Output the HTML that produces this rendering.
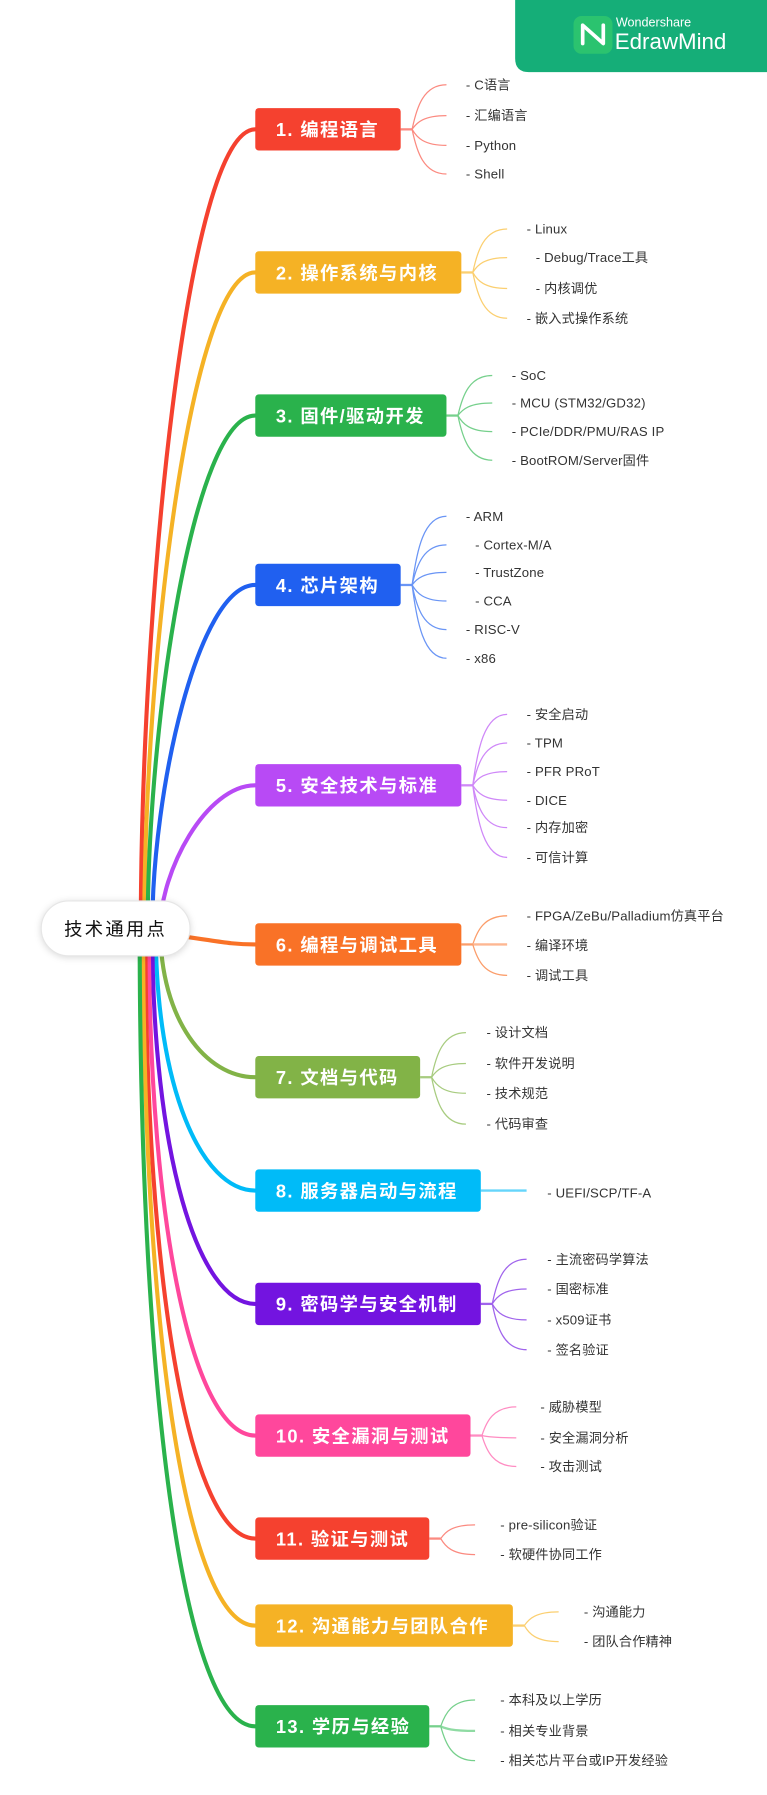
<!DOCTYPE html>
<html><head><meta charset="utf-8"><style>
html,body{margin:0;padding:0;background:#fff;}
svg{display:block;}
.n{font-family:"Liberation Sans","Noto Sans CJK SC",sans-serif;font-weight:bold;font-size:16px;fill:#fff;letter-spacing:1.2px;}
.l{font-family:"Liberation Sans","Noto Sans CJK SC",sans-serif;font-size:11.5px;fill:#333;letter-spacing:0.15px;}
.b{fill:none;stroke-width:3.6;stroke-linecap:round;}
.s{fill:none;stroke-width:1.1;}
</style></head><body>
<svg width="767" height="1795" viewBox="0 0 670 1568" preserveAspectRatio="none" xmlns="http://www.w3.org/2000/svg">
<path d="M450 0 H670 V63 H462 Q450 63 450 51 Z" fill="#15ae78"/>
<rect x="501" y="14" width="34" height="33" rx="7" fill="#2bc36f"/>
<path d="M509 38 V22 L527 38 V22" fill="none" stroke="#fff" stroke-width="3.2" stroke-linejoin="round" stroke-linecap="round"/>
<text x="538" y="23" font-family="Liberation Sans,sans-serif" font-size="11" fill="#fff">Wondershare</text>
<text x="537" y="43" font-family="Liberation Sans,sans-serif" font-size="19.5" fill="#fff">EdrawMind</text>

<path class="b" stroke="#f5412f" d="M123 811 C123 532 163 113 223 113"/>
<path class="b" stroke="#f5b225" d="M126 811 C126 581 166 238 223 238"/>
<path class="b" stroke="#2ab24c" d="M129 811 C129 632 169 363 223 363"/>
<path class="b" stroke="#2060f0" d="M133 811 C133 691 173 511 223 511"/>
<path class="b" stroke="#b84af5" stroke-width="4.5" d="M140 811 C140 761 180 686 223 686"/>
<path class="b" stroke="#f97227" stroke-width="5" d="M160 818 C190 822 200 825 223 825"/>
<path class="b" stroke="#82b347" stroke-width="4.5" d="M140 811 C140 891 180 941 223 941"/>
<path class="b" stroke="#00bbf8" d="M136 811 C136 950 176 1040 223 1040"/>
<path class="b" stroke="#7314e0" d="M133 811 C133 1008 173 1139 223 1139"/>
<path class="b" stroke="#ff479c" d="M130 811 C130 1077 170 1254 223 1254"/>
<path class="b" stroke="#f5412f" d="M127 811 C127 1131 167 1344 223 1344"/>
<path class="b" stroke="#f5b225" d="M125 811 C125 1176 165 1420 223 1420"/>
<path class="b" stroke="#2ab24c" stroke-width="4.2" d="M122 811 C122 1229 162 1508 223 1508"/>

<rect x="36" y="787" width="130" height="48" rx="24" fill="#fff" stroke="#e6e6e6" stroke-width="1" style="filter:drop-shadow(0 1px 3px rgba(0,0,0,.15))"/>
<text x="101" y="817" text-anchor="middle" font-family="Liberation Sans,Noto Sans CJK SC,sans-serif" font-size="16" fill="#111" letter-spacing="2">技术通用点</text>

<g class="s" stroke="#fb8a80">
<path stroke-width="2" d="M350 113 H360"/>
<path d="M360 113 c4 -19.5 10 -39 30 -39"/><path d="M360 113 c4 -6 10 -12 30 -12"/><path d="M360 113 c4 7 10 14 30 14"/><path d="M360 113 c4 19.5 10 39 30 39"/>
</g>
<g class="s" stroke="#fbcf70">
<path stroke-width="2" d="M403 238 H413"/>
<path d="M413 238 c4 -19 10 -38 30 -38"/><path d="M413 238 c4 -6.5 10 -13 30 -13"/><path d="M413 238 c4 7 10 14 30 14"/><path d="M413 238 c4 20 10 40 30 40"/>
</g>
<g class="s" stroke="#76d08c">
<path stroke-width="2" d="M390 363 H400"/>
<path d="M400 363 c4 -17.5 10 -35 30 -35"/><path d="M400 363 c4 -5.5 10 -11 30 -11"/><path d="M400 363 c4 7 10 14 30 14"/><path d="M400 363 c4 19.5 10 39 30 39"/>
</g>
<g class="s" stroke="#6a95f5">
<path stroke-width="2" d="M350 511 H360"/>
<path d="M360 511 c4 -30 10 -60 30 -60"/><path d="M360 511 c4 -17.5 10 -35 30 -35"/><path d="M360 511 c4 -5.5 10 -11 30 -11"/><path d="M360 511 c4 7 10 14 30 14"/><path d="M360 511 c4 19.5 10 39 30 39"/><path d="M360 511 c4 32 10 64 30 64"/>
</g>
<g class="s" stroke="#cf88f8">
<path stroke-width="2" d="M403 686 H413"/>
<path d="M413 686 c4 -31 10 -62 30 -62"/><path d="M413 686 c4 -18.5 10 -37 30 -37"/><path d="M413 686 c4 -6 10 -12 30 -12"/><path d="M413 686 c4 6.5 10 13 30 13"/><path d="M413 686 c4 18.5 10 37 30 37"/><path d="M413 686 c4 31.5 10 63 30 63"/>
</g>
<g class="s" stroke="#fb9d6a">
<path stroke-width="2" d="M403 825 H413"/>
<path d="M413 825 c4 -12.5 10 -25 30 -25"/><path stroke-width="2" stroke="#fdb792" d="M413 825 H443"/><path d="M413 825 c4 13.5 10 27 30 27"/>
</g>
<g class="s" stroke="#a8cc80">
<path stroke-width="2" d="M367 941 H377"/>
<path d="M377 941 c4 -19.5 10 -39 30 -39"/><path d="M377 941 c4 -6 10 -12 30 -12"/><path d="M377 941 c4 7 10 14 30 14"/><path d="M377 941 c4 20.5 10 41 30 41"/>
</g>
<path d="M420 1040 H460" stroke="#66d5fb" stroke-width="2" fill="none"/>
<g class="s" stroke="#a064ec">
<path stroke-width="2" d="M420 1139 H430"/>
<path d="M430 1139 c4 -19.5 10 -39 30 -39"/><path d="M430 1139 c4 -6.5 10 -13 30 -13"/><path d="M430 1139 c4 7 10 14 30 14"/><path d="M430 1139 c4 20 10 40 30 40"/>
</g>
<g class="s" stroke="#ff8cc2">
<path stroke-width="2" d="M411 1254 H421"/>
<path d="M421 1254 c4 -12.5 10 -25 30 -25"/><path d="M421 1254 c4 1 10 2 30 2"/><path d="M421 1254 c4 13.5 10 27 30 27"/>
</g>
<g class="s" stroke="#fb8a80">
<path stroke-width="2" d="M375 1344 H385"/>
<path d="M385 1344 c4 -6 10 -12 30 -12"/><path d="M385 1344 c4 7 10 14 30 14"/>
</g>
<g class="s" stroke="#fbcf70">
<path stroke-width="2" d="M448 1420 H458"/>
<path d="M458 1420 c4 -6 10 -12 30 -12"/><path d="M458 1420 c4 7 10 14 30 14"/>
</g>
<g class="s" stroke="#76d08c">
<path stroke-width="2" d="M375 1508 H385"/>
<path d="M385 1508 c4 -11.5 10 -23 30 -23"/><path stroke-width="2" stroke="#8fdba3" d="M385 1508 c4 2 10 4 30 4"/><path d="M385 1508 c4 15 10 30 30 30"/>
</g>

<rect x="223" y="94.5" width="127" height="37" rx="3" fill="#f5412f"/><text class="n" x="241" y="119">1. 编程语言</text>
<rect x="223" y="219.5" width="180" height="37" rx="3" fill="#f5b225"/><text class="n" x="241" y="244">2. 操作系统与内核</text>
<rect x="223" y="344.5" width="167" height="37" rx="3" fill="#2ab24c"/><text class="n" x="241" y="369">3. 固件/驱动开发</text>
<rect x="223" y="492.5" width="127" height="37" rx="3" fill="#2060f0"/><text class="n" x="241" y="517">4. 芯片架构</text>
<rect x="223" y="667.5" width="180" height="37" rx="3" fill="#b84af5"/><text class="n" x="241" y="692">5. 安全技术与标准</text>
<rect x="223" y="806.5" width="180" height="37" rx="3" fill="#f97227"/><text class="n" x="241" y="831">6. 编程与调试工具</text>
<rect x="223" y="922.5" width="144" height="37" rx="3" fill="#82b347"/><text class="n" x="241" y="947">7. 文档与代码</text>
<rect x="223" y="1021.5" width="197" height="37" rx="3" fill="#00bbf8"/><text class="n" x="241" y="1046">8. 服务器启动与流程</text>
<rect x="223" y="1120.5" width="197" height="37" rx="3" fill="#7314e0"/><text class="n" x="241" y="1145">9. 密码学与安全机制</text>
<rect x="223" y="1235.5" width="188" height="37" rx="3" fill="#ff479c"/><text class="n" x="241" y="1260">10. 安全漏洞与测试</text>
<rect x="223" y="1325.5" width="152" height="37" rx="3" fill="#f5412f"/><text class="n" x="241" y="1350">11. 验证与测试</text>
<rect x="223" y="1401.5" width="225" height="37" rx="3" fill="#f5b225"/><text class="n" x="241" y="1426">12. 沟通能力与团队合作</text>
<rect x="223" y="1489.5" width="152" height="37" rx="3" fill="#2ab24c"/><text class="n" x="241" y="1514">13. 学历与经验</text>

<text class="l" x="407" y="78">- C语言</text>
<text class="l" x="407" y="105">- 汇编语言</text>
<text class="l" x="407" y="131">- Python</text>
<text class="l" x="407" y="156">- Shell</text>

<text class="l" x="460" y="204">- Linux</text>
<text class="l" x="468" y="229">- Debug/Trace工具</text>
<text class="l" x="468" y="256">- 内核调优</text>
<text class="l" x="460" y="282">- 嵌入式操作系统</text>

<text class="l" x="447" y="332">- SoC</text>
<text class="l" x="447" y="356">- MCU (STM32/GD32)</text>
<text class="l" x="447" y="381">- PCIe/DDR/PMU/RAS IP</text>
<text class="l" x="447" y="406">- BootROM/Server固件</text>

<text class="l" x="407" y="455">- ARM</text>
<text class="l" x="415" y="480">- Cortex-M/A</text>
<text class="l" x="415" y="504">- TrustZone</text>
<text class="l" x="415" y="529">- CCA</text>
<text class="l" x="407" y="554">- RISC-V</text>
<text class="l" x="407" y="579">- x86</text>

<text class="l" x="460" y="628">- 安全启动</text>
<text class="l" x="460" y="653">- TPM</text>
<text class="l" x="460" y="678">- PFR PRoT</text>
<text class="l" x="460" y="703">- DICE</text>
<text class="l" x="460" y="727">- 内存加密</text>
<text class="l" x="460" y="753">- 可信计算</text>

<text class="l" x="460" y="804">- FPGA/ZeBu/Palladium仿真平台</text>
<text class="l" x="460" y="830">- 编译环境</text>
<text class="l" x="460" y="856">- 调试工具</text>

<text class="l" x="425" y="906">- 设计文档</text>
<text class="l" x="425" y="933">- 软件开发说明</text>
<text class="l" x="425" y="959">- 技术规范</text>
<text class="l" x="425" y="986">- 代码审查</text>

<text class="l" x="478" y="1046">- UEFI/SCP/TF-A</text>

<text class="l" x="478" y="1104">- 主流密码学算法</text>
<text class="l" x="478" y="1130">- 国密标准</text>
<text class="l" x="478" y="1157">- x509证书</text>
<text class="l" x="478" y="1183">- 签名验证</text>

<text class="l" x="472" y="1233">- 威胁模型</text>
<text class="l" x="472" y="1260">- 安全漏洞分析</text>
<text class="l" x="472" y="1285">- 攻击测试</text>

<text class="l" x="437" y="1336">- pre-silicon验证</text>
<text class="l" x="437" y="1362">- 软硬件协同工作</text>

<text class="l" x="510" y="1412">- 沟通能力</text>
<text class="l" x="510" y="1438">- 团队合作精神</text>

<text class="l" x="437" y="1489">- 本科及以上学历</text>
<text class="l" x="437" y="1516">- 相关专业背景</text>
<text class="l" x="437" y="1542">- 相关芯片平台或IP开发经验</text>
</svg>
</body></html>
